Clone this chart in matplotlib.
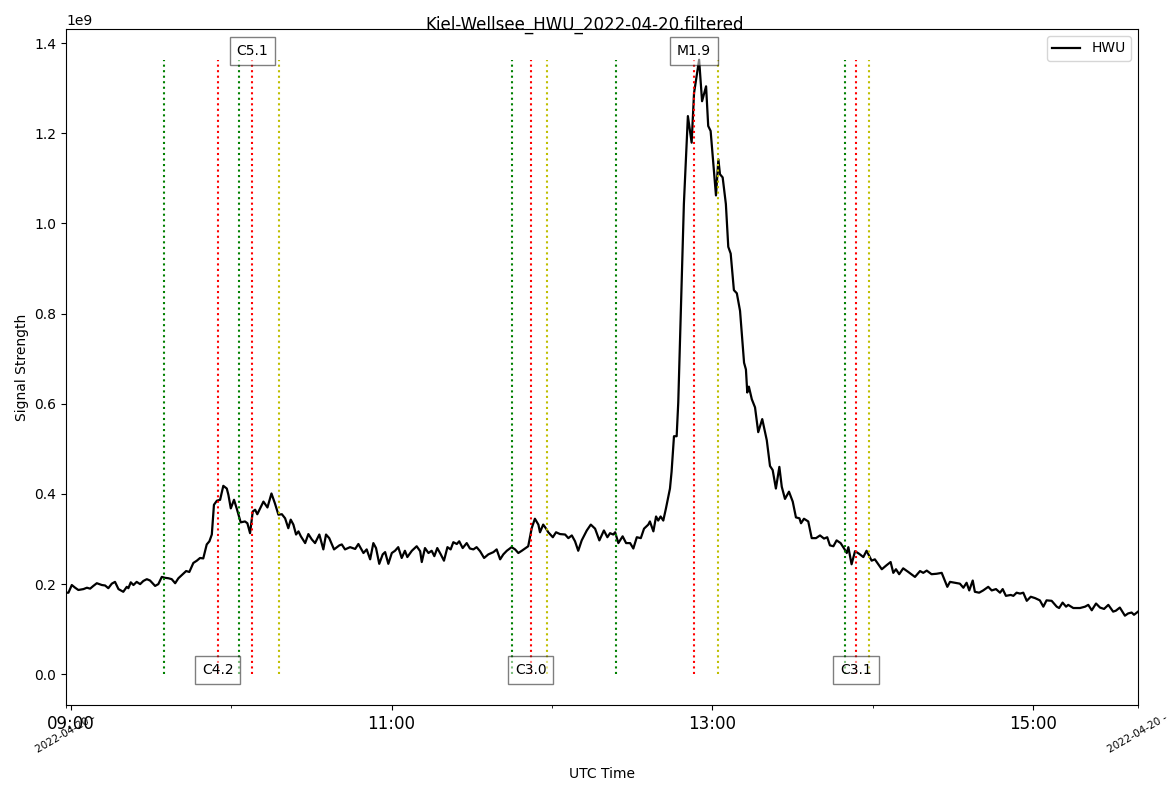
import matplotlib
matplotlib.use("Agg")
import matplotlib.pyplot as plt

# time in minutes after 09:00 UTC, signal in units of 1e9
t_min = [-1.7, -0.8, 0.45, 1.7, 2.9, 4.8, 6.1, 7.3, 8.5, 9.8, 11.7, 12.9, 14.1, 15.4, 16.6, 17.9, 19.7, 21.0, 21.6, 22.5,
         23.5, 24.7, 26.0, 27.2, 28.5, 29.7, 31.6, 32.8, 34.1, 35.3, 36.6, 37.8, 39.1, 40.3, 41.9, 43.2, 44.4, 45.9, 47.2, 48.4,
         49.6, 50.9, 51.9, 52.8, 53.6, 54.7, 55.9, 57.1, 58.4, 59.0, 59.9, 61.1, 62.1, 63.6, 65.2, 66.1, 67.1, 68.1, 69.0, 69.8,
         70.8, 72.1, 73.6, 75.1, 76.4, 77.7, 79.0, 80.2, 81.4, 82.3, 83.3, 84.3, 85.2, 86.1, 87.7, 88.9, 90.2, 91.4, 93.0, 94.5,
         95.5, 96.7, 98.5, 100.5,
         101.4, 102.6, 104.5, 106.4, 107.6, 109.5, 110.7, 112.0, 113.2, 114.2, 115.4, 116.7, 117.6, 118.8, 120.1, 121.3, 122.5,
         123.8, 125.0, 125.9, 127.6, 129.4, 130.7, 131.3, 132.5, 133.8, 135.0, 136.0, 137.1, 138.4, 139.6, 140.9, 142.1, 143.1,
         144.4, 145.3, 146.6, 148.1, 149.3, 150.6, 151.8, 153.1, 154.6, 156.2, 158.1, 159.3, 160.6, 161.8, 163.1, 164.9, 166.2,
         167.4, 168.7, 169.9, 171.1, 172.4, 173.6, 174.9, 175.5, 176.7, 177.8, 178.6, 180.3, 181.5, 183.0, 184.9, 186.1, 187.4,
         188.6, 189.8, 191.1, 193.0, 194.5, 196.1, 197.7,
         199.4, 200.7, 201.7, 202.9, 203.6, 204.8, 206.4, 207.7, 209.2, 210.4, 211.7, 213.2, 214.4, 216.0, 216.6, 217.9, 218.9,
         219.7, 220.6, 221.6, 222.6, 224.1, 224.7, 225.6, 226.6, 227.2, 227.9,
         229.3, 230.8, 232.2, 233.1, 235.0, 236.1, 237.6, 238.4, 239.3, 241.3, 242.2, 242.8, 243.8, 245.0, 245.9, 246.8, 248.0,
         249.1, 250.3, 251.8, 252.5, 253.0, 253.6, 254.7, 255.9, 257.1, 258.6, 260.3, 261.5, 262.5, 263.7, 265.0, 265.9, 267.1,
         268.6, 270.0, 271.2, 272.5, 273.1, 274.2, 275.8, 277.1, 278.7, 280.2, 281.7, 282.9, 283.9, 285.2, 286.4, 287.9, 289.2,
         290.2, 290.8, 292.0, 293.3, 294.9, 296.4, 297.6,
         299.5, 300.7, 303.3, 305.1, 306.6, 307.6, 308.6, 309.8, 311.3, 313.2, 315.7, 317.6, 318.8, 320.1, 321.9, 323.8, 325.7,
         327.8, 328.8, 330.7, 332.5, 333.8, 335.0, 336.0, 337.3, 338.1, 339.7, 341.2, 343.1, 344.4, 346.0, 347.5, 348.5, 349.7,
         351.5, 352.5, 353.7, 355.0, 356.2, 357.5, 359.0, 360.6, 362.4, 363.7, 364.9, 366.8, 368.7, 369.6, 370.9, 372.2, 373.0,
         374.9, 377.4, 379.3, 380.5, 381.8, 383.4, 384.9, 386.4, 388.0, 389.8, 390.8, 392.3, 394.2, 395.4, 396.7, 397.6, 399.1]

signal_e9 = [0.181, 0.181, 0.198, 0.192, 0.187, 0.189, 0.192, 0.190, 0.196, 0.202, 0.198, 0.197, 0.191, 0.201, 0.205, 0.189, 0.183, 0.194, 0.191, 0.204,
             0.198, 0.205, 0.200, 0.207, 0.211, 0.208, 0.196, 0.200, 0.216, 0.214, 0.213, 0.211, 0.202, 0.213, 0.222, 0.229, 0.227, 0.247, 0.252, 0.258,
             0.257, 0.288, 0.295, 0.310, 0.376, 0.385, 0.387, 0.418, 0.412, 0.398, 0.368, 0.387, 0.368, 0.337, 0.339, 0.335, 0.313, 0.361, 0.365, 0.355,
             0.367, 0.383, 0.370, 0.401, 0.379, 0.354, 0.355, 0.346, 0.324, 0.343, 0.332, 0.310, 0.317, 0.306, 0.291, 0.311, 0.299, 0.291, 0.310, 0.277,
             0.310, 0.302, 0.277, 0.286,
             0.288, 0.277, 0.282, 0.278, 0.289, 0.269, 0.277, 0.255, 0.291, 0.280, 0.245, 0.266, 0.271, 0.245, 0.269, 0.274, 0.282,
             0.258, 0.274, 0.260, 0.274, 0.284, 0.273, 0.249, 0.280, 0.269, 0.274, 0.262, 0.280, 0.266, 0.252, 0.282, 0.277, 0.293,
             0.289, 0.295, 0.280, 0.291, 0.279, 0.277, 0.282, 0.273, 0.258, 0.266, 0.271, 0.277, 0.255, 0.266, 0.274, 0.282, 0.277,
             0.269, 0.274, 0.279, 0.284, 0.324, 0.345, 0.332, 0.315, 0.332, 0.323, 0.315, 0.304, 0.315, 0.311, 0.310, 0.302, 0.308,
             0.295, 0.274, 0.297, 0.319, 0.332, 0.323, 0.297,
             0.319, 0.304, 0.313, 0.310, 0.315, 0.291, 0.306, 0.291, 0.291, 0.279, 0.304, 0.302, 0.323, 0.332, 0.339, 0.317, 0.350,
             0.341, 0.350, 0.341, 0.368, 0.412, 0.449, 0.528, 0.528, 0.603, 0.750,
             1.043, 1.238, 1.179, 1.289, 1.363, 1.271, 1.304, 1.216, 1.205, 1.062, 1.142, 1.109, 1.102, 1.043, 0.948, 0.933, 0.852,
             0.845, 0.806, 0.691, 0.676, 0.625, 0.638, 0.610, 0.592, 0.537, 0.566, 0.519, 0.462, 0.453, 0.412, 0.460, 0.416, 0.389,
             0.405, 0.383, 0.348, 0.346, 0.335, 0.345, 0.339, 0.302, 0.302, 0.308, 0.301, 0.304, 0.286, 0.284, 0.297, 0.291, 0.279,
             0.269, 0.282, 0.244, 0.273, 0.267, 0.260, 0.274,
             0.252, 0.255, 0.233, 0.242, 0.249, 0.225, 0.233, 0.222, 0.235, 0.227, 0.216, 0.229, 0.225, 0.230, 0.222, 0.223, 0.225,
             0.194, 0.205, 0.203, 0.201, 0.192, 0.203, 0.186, 0.208, 0.183, 0.181, 0.186, 0.194, 0.186, 0.189, 0.181, 0.189, 0.174,
             0.176, 0.174, 0.181, 0.179, 0.181, 0.163, 0.172, 0.169, 0.164, 0.150, 0.164, 0.163, 0.150, 0.147, 0.159, 0.150, 0.154,
             0.147, 0.147, 0.150, 0.154, 0.142, 0.157, 0.148, 0.145, 0.154, 0.139, 0.141, 0.148, 0.130, 0.135, 0.137, 0.132, 0.139]

signal = [v * 1e9 for v in signal_e9]

# flares: class, start, peak, end (minutes after 09:00), label position
flare_class = ["C4.2", "C5.1", "C3.0", "M1.9", "C3.1"]
flare_start = [35, 63, 165, 204, 289.5]
flare_peak = [55, 68, 172, 233, 293.6]
flare_end = [None, 78, 178, 242, 298.5]
label_top = [False, True, False, True, False]

major_ticks = [0, 120, 240, 360]
major_labels = ["09:00", "11:00", "13:00", "15:00"]
minor_ticks = [t_min[0], 60, 180, 300, t_min[-1]]
minor_labels = ["2022-04-20 -", "", "", "", "2022-04-20 -"]

fig = plt.figure(figsize=(11.69, 7.92), dpi=100)
ax = fig.add_subplot(111)
fig.subplots_adjust(left=0.0565, right=0.9735, top=0.9634, bottom=0.1098)

ax.plot(t_min, signal, color="black", lw=1.6, label="HWU")
ymax = max(signal)
for cls, s, p, e, top in zip(flare_class, flare_start, flare_peak, flare_end, label_top):
    ax.vlines(s, 0, ymax, colors="g", linestyles=":", lw=1.5)
    ax.vlines(p, 0, ymax, colors="r", linestyles=":", lw=1.5)
    if e is not None:
        ax.vlines(e, 0, ymax, colors="y", linestyles=":", lw=1.5)
    ax.text(p, ymax * 1.007 if top else 0, cls, ha="center", fontsize=10,
            bbox=dict(facecolor="white", alpha=0.5, pad=5))

ax.set_xlim(t_min[0], t_min[-1])
ax.set_xticks(major_ticks)
ax.set_xticklabels(major_labels, fontsize=12)
ax.set_xticks(minor_ticks, minor=True)
ax.set_xticklabels(minor_labels, minor=True, fontsize=7.5, rotation=30, ha="center")

fig.suptitle("Kiel-Wellsee_HWU_2022-04-20.filtered")
ax.set_xlabel("UTC Time", labelpad=9)
ax.set_ylabel("Signal Strength")
ax.legend(loc="upper right")

fig.savefig("out.png", dpi=100)
